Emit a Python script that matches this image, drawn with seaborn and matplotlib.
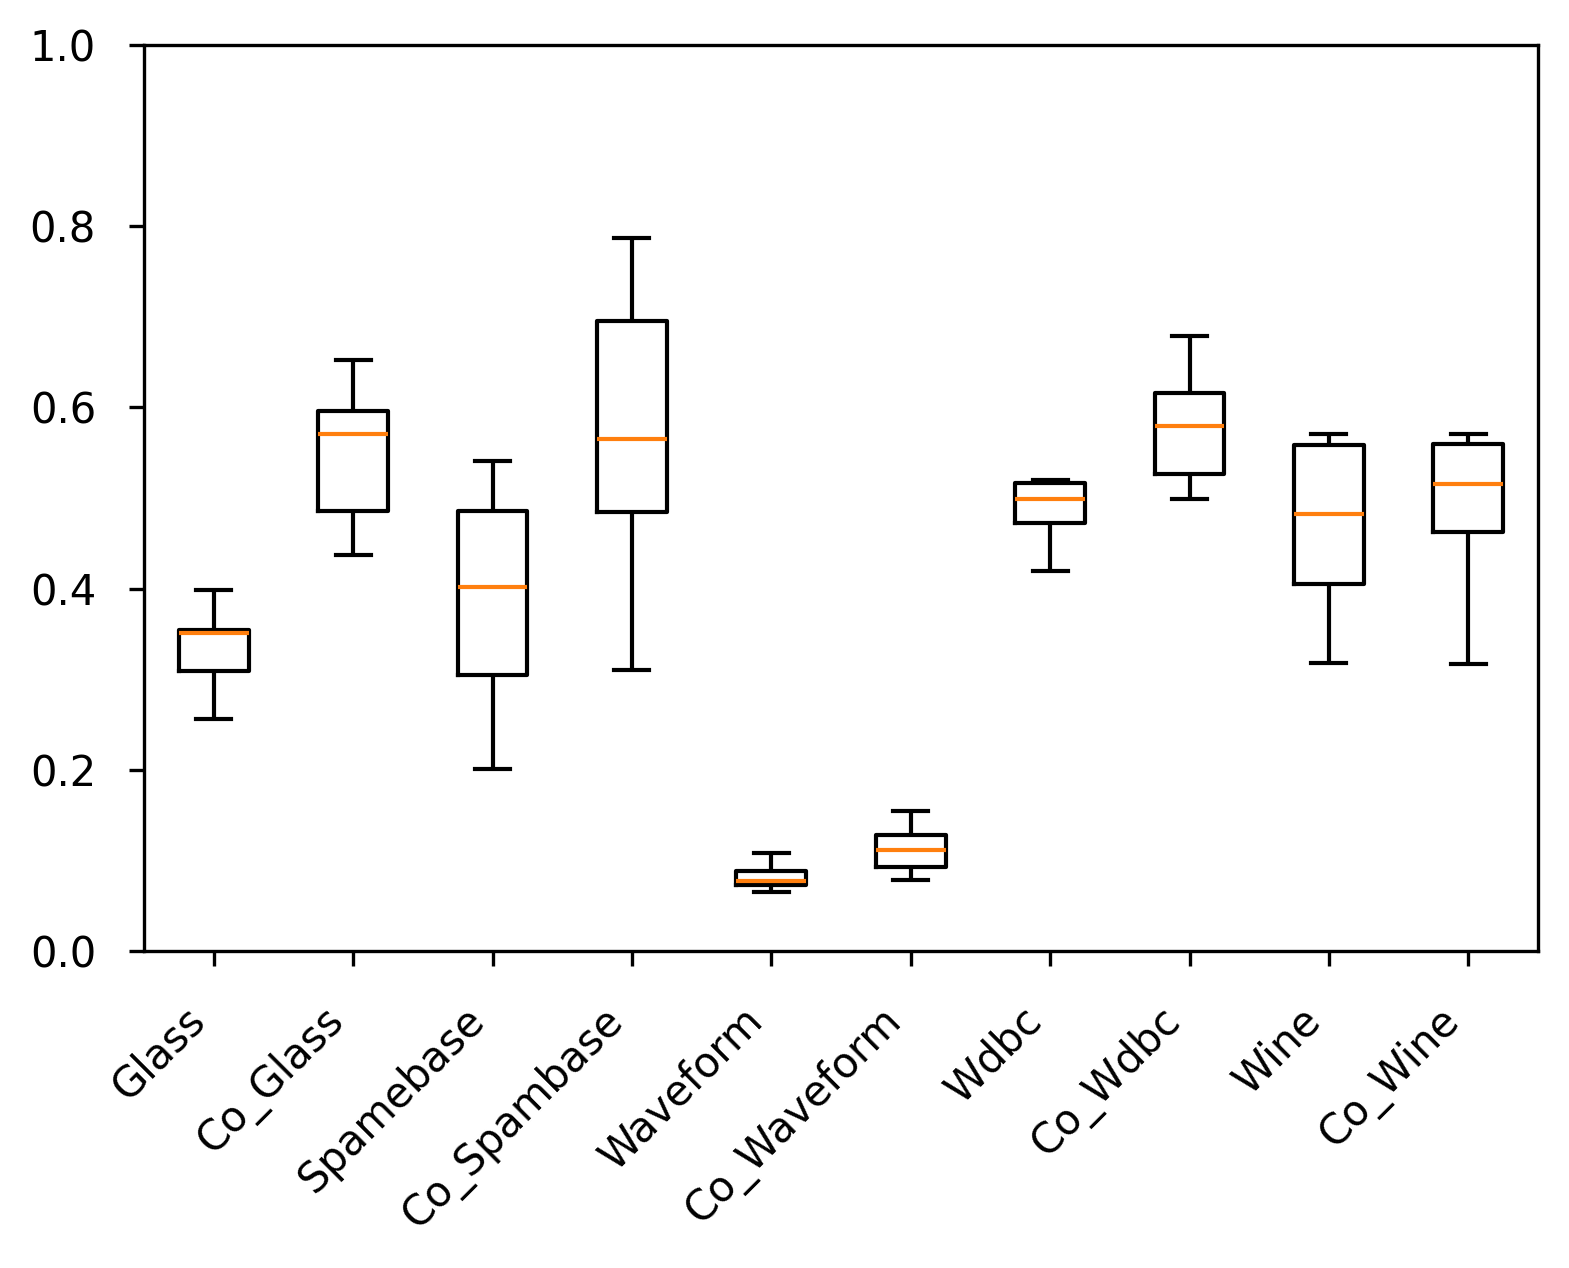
import matplotlib
matplotlib.use("Agg")
import matplotlib.pyplot as plt
import pandas as pd
import seaborn as sns

# dataset names (x axis)
datasets = ["Glass", "Co_Glass", "Spamebase", "Co_Spambase", "Waveform",
            "Co_Waveform", "Wdbc", "Co_Wdbc", "Wine", "Co_Wine"]

# five-number summaries
mins    = [0.256, 0.437, 0.201, 0.310, 0.0655, 0.078, 0.419, 0.499, 0.318, 0.317]
q1s     = [0.309, 0.486, 0.305, 0.485, 0.0728, 0.093, 0.472, 0.526, 0.405, 0.462]
medians = [0.351, 0.571, 0.402, 0.565, 0.0776, 0.111, 0.499, 0.579, 0.482, 0.516]
q3s     = [0.354, 0.596, 0.486, 0.695, 0.0887, 0.128, 0.517, 0.616, 0.558, 0.560]
maxs    = [0.399, 0.652, 0.541, 0.787, 0.108, 0.154, 0.520, 0.679, 0.571, 0.571]

# five points per dataset -> the quartiles come out exactly as above
rows = []
for i, name in enumerate(datasets):
    for v in [mins[i], q1s[i], medians[i], q3s[i], maxs[i]]:
        rows.append({"dataset": name, "score": v})
df = pd.DataFrame(rows)

fig, ax = plt.subplots(figsize=(1569 / 300, 1268 / 300), dpi=300)
sns.boxplot(data=df, x="dataset", y="score", order=datasets, ax=ax,
            width=0.5, fill=False, color="black", linewidth=1,
            whis=(0, 100), showfliers=False,
            medianprops={"color": "#ff7f0e", "linewidth": 1})

ax.set_ylim(0, 1.0)
ax.set_xlim(-0.5, len(datasets) - 0.5)
ax.set_xlabel("")
ax.set_ylabel("")
plt.xticks(rotation=45, ha="right")
ax.tick_params(labelsize=10, pad=8)

fig.subplots_adjust(left=144 / 1569, right=1538 / 1569, top=1 - 45 / 1268, bottom=1 - 951 / 1268)
fig.savefig("out.png", dpi=300)
